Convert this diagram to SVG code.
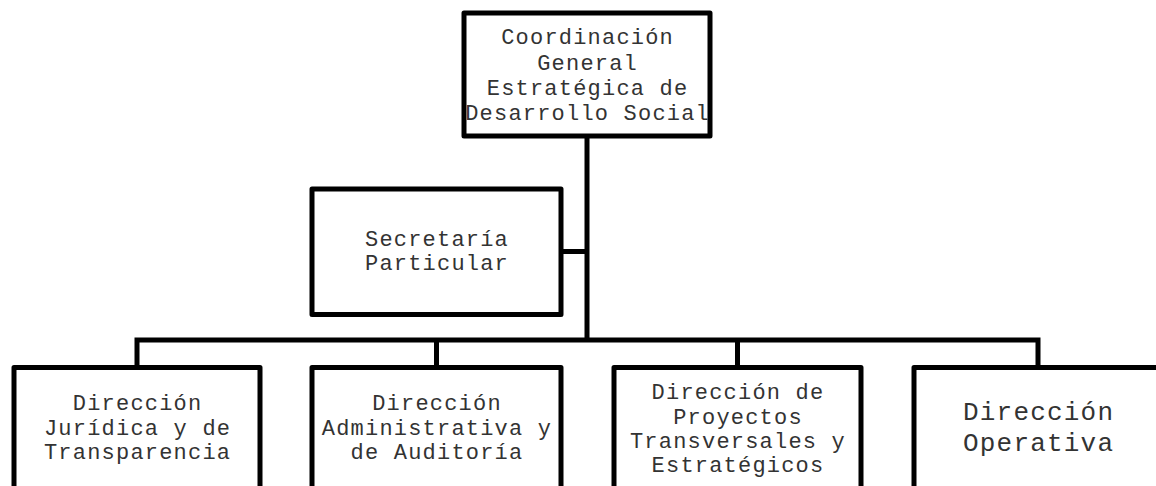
<svg xmlns="http://www.w3.org/2000/svg" width="1156" height="486" viewBox="0 0 1156 486">
<style>
.box{fill:#fff;stroke:#000;stroke-width:5;stroke-linejoin:round}
.ln{fill:none;stroke:#000;stroke-width:5;stroke-linecap:butt;stroke-linejoin:miter}
.t{font-family:"Liberation Mono","Courier New",monospace;font-size:22px;letter-spacing:1.2px;fill:#333;text-anchor:middle}
.tl{font-size:26px;letter-spacing:1.2px}
</style>
<rect width="1156" height="486" fill="#fff"/>
<g id="connectors">
<path class="ln" d="M587 136 V340"/>
<path class="ln" d="M561 251.5 H587"/>
<path class="ln" d="M137 367 V340 H1038 V367"/>
<path class="ln" d="M436.5 340 V367"/>
<path class="ln" d="M737.5 340 V367"/>
</g>
<g id="n-coord">
<rect class="box" x="464" y="13" width="246" height="123"/>
<text class="t" x="587.6" y="44">Coordinación</text>
<text class="t" x="587.6" y="69.5">General</text>
<text class="t" x="587.6" y="95">Estratégica de</text>
<text class="t" x="587.6" y="120">Desarrollo Social</text>
</g>
<g id="n-secretaria">
<rect class="box" x="312" y="189" width="249" height="125.5"/>
<text class="t" x="437" y="246">Secretaría</text>
<text class="t" x="437" y="270">Particular</text>
</g>
<g id="n-juridica">
<rect class="box" x="14" y="367.5" width="246" height="140"/>
<text class="t" x="137.6" y="410">Dirección</text>
<text class="t" x="137.6" y="435">Jurídica y de</text>
<text class="t" x="137.6" y="459">Transparencia</text>
</g>
<g id="n-administrativa">
<rect class="box" x="312" y="367.5" width="249" height="140"/>
<text class="t" x="437" y="410">Dirección</text>
<text class="t" x="437" y="435">Administrativa y</text>
<text class="t" x="437" y="459">de Auditoría</text>
</g>
<g id="n-proyectos">
<rect class="box" x="614" y="367.5" width="247" height="140"/>
<text class="t" x="738" y="399">Dirección de</text>
<text class="t" x="738" y="423.5">Proyectos</text>
<text class="t" x="738" y="448">Transversales y</text>
<text class="t" x="738" y="472">Estratégicos</text>
</g>
<g id="n-operativa">
<rect class="box" x="914" y="367.5" width="248" height="140"/>
<text class="t tl" x="1038.6" y="420">Dirección</text>
<text class="t tl" x="1038.6" y="451">Operativa</text>
</g>
</svg>
